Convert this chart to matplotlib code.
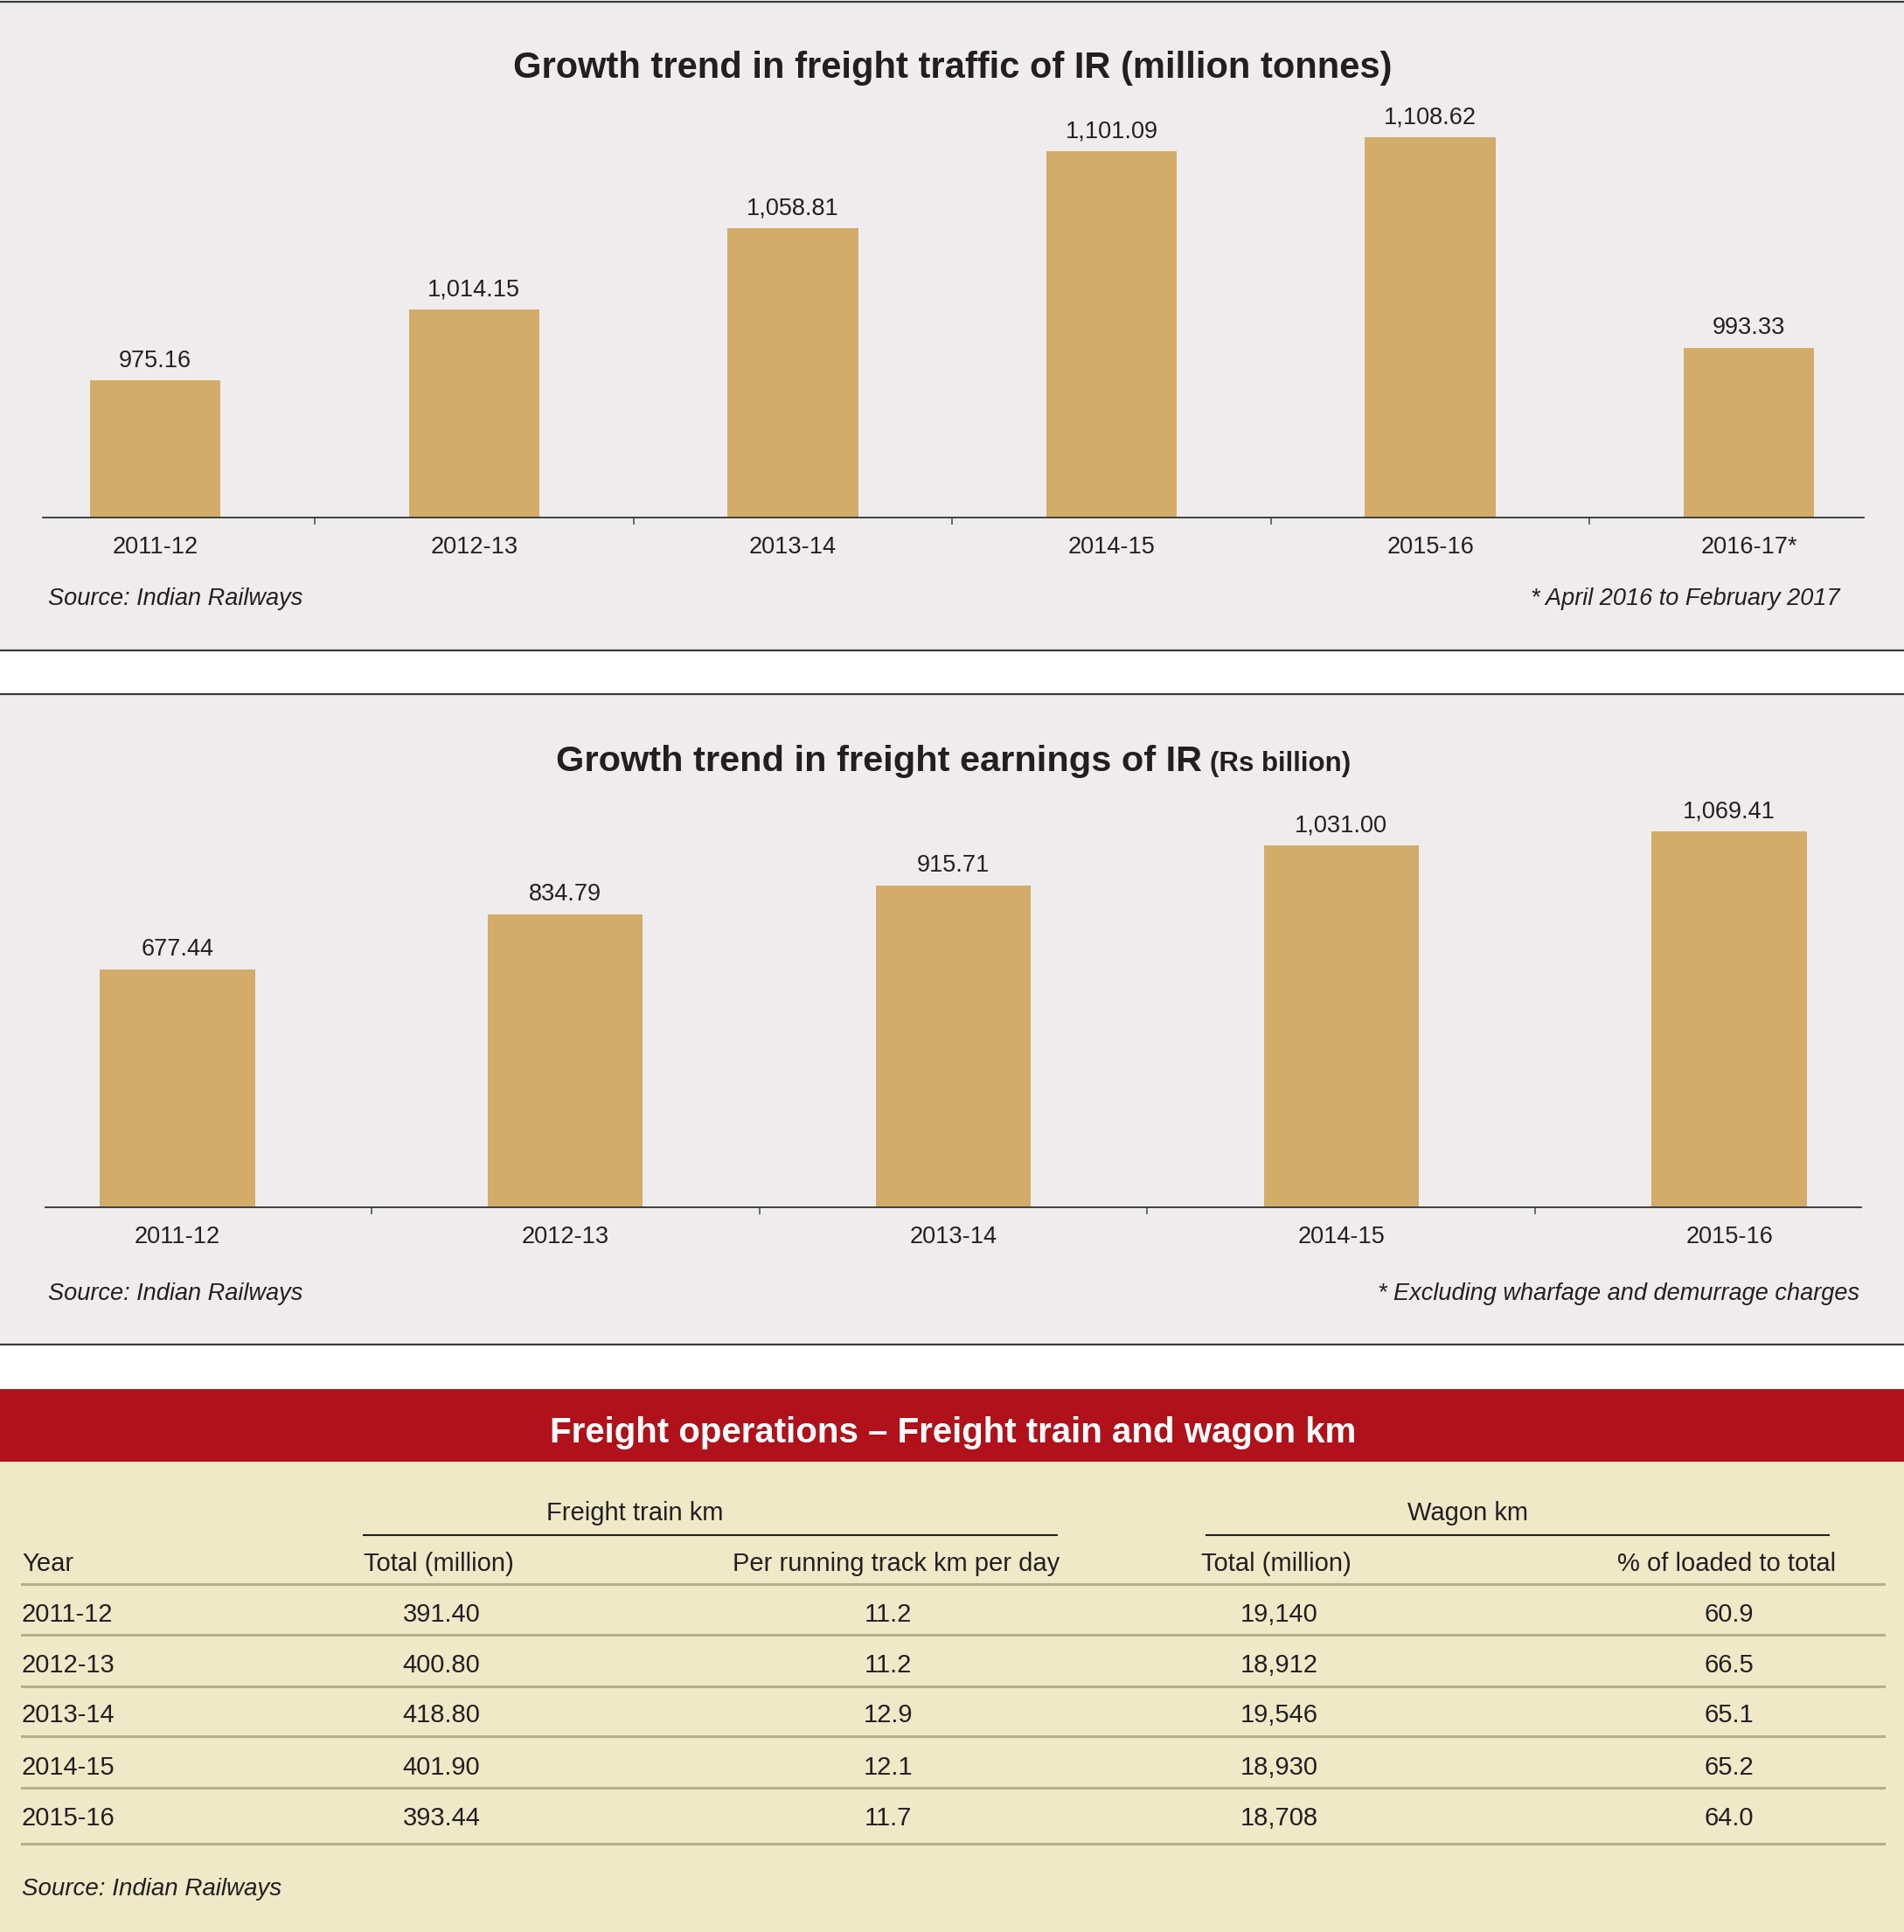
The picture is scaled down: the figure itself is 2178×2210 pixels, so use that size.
import matplotlib
matplotlib.use("Agg")
import matplotlib.pyplot as plt
from matplotlib.patches import Rectangle
from matplotlib.lines import Line2D

# Freight traffic (million tonnes)
traffic_years = ["2011-12", "2012-13", "2013-14", "2014-15", "2015-16", "2016-17*"]
traffic_values = [975.16, 1014.15, 1058.81, 1101.09, 1108.62, 993.33]

# Freight earnings (Rs billion)
earning_years = ["2011-12", "2012-13", "2013-14", "2014-15", "2015-16"]
earning_values = [677.44, 834.79, 915.71, 1031.00, 1069.41]

# Freight train and wagon km table
table_years = ["2011-12", "2012-13", "2013-14", "2014-15", "2015-16"]
train_km_total = ["391.40", "400.80", "418.80", "401.90", "393.44"]
train_km_per_track = ["11.2", "11.2", "12.9", "12.1", "11.7"]
wagon_km_total = ["19,140", "18,912", "19,546", "18,930", "18,708"]
wagon_loaded_pct = ["60.9", "66.5", "65.1", "65.2", "64.0"]
table_headers = ["Year", "Total (million)", "Per running track km per day",
                 "Total (million)", "% of loaded to total"]

W, H = 2178, 2210
GREY = "#EEECED"
BAR = "#D3AC6A"
INK = "#231F20"
RED = "#B0111A"
BEIGE = "#EFE9C8"
RULE = "#B5B08C"

plt.rcParams["font.family"] = ["Liberation Sans", "DejaVu Sans"]

fig = plt.figure(figsize=(W / 100, H / 100), dpi=100, facecolor="white")


def fx(x):
    return x / W


def fy(y):
    return 1 - y / H


def rect(x0, y0, x1, y1, color):
    fig.add_artist(Rectangle((fx(x0), fy(y1)), fx(x1) - fx(x0), fy(y0) - fy(y1),
                             transform=fig.transFigure, facecolor=color,
                             edgecolor="none", zorder=0))


def hline(x0, x1, y, color, lw):
    fig.add_artist(Line2D([fx(x0), fx(x1)], [fy(y), fy(y)], transform=fig.transFigure,
                          color=color, linewidth=lw, zorder=1))


def txt(x, y, s, size, ha="center", va="center", **kw):
    return fig.text(fx(x), fy(y), s, fontsize=size, ha=ha, va=va,
                    color=kw.pop("color", INK), **kw)


def fit_width(t, target):
    # scale a title so it spans the same width as in the reference
    r = fig.canvas.get_renderer()
    w = t.get_window_extent(r).width
    t.set_fontsize(t.get_fontsize() * target / w)


def bar_panel(ax, years, values, ymin, ymax, xlo, xhi, width):
    ax.set_facecolor("none")
    ax.bar(range(len(values)), [v - ymin for v in values], bottom=ymin,
           width=width, color=BAR, zorder=2)
    for i, v in enumerate(values):
        ax.annotate(f"{v:,.2f}", (i, v), xytext=(0, 7), textcoords="offset points",
                    ha="center", va="bottom", fontsize=19.5, color=INK)
    ax.set_xlim(xlo, xhi)
    ax.set_ylim(ymin, ymax)
    for side in ["top", "left", "right"]:
        ax.spines[side].set_visible(False)
    ax.spines["bottom"].set_color("#333333")
    ax.spines["bottom"].set_linewidth(1.3)
    ax.set_yticks([])
    ax.set_xticks(range(len(years)))
    ax.set_xticklabels(years, fontsize=19.5, color=INK)
    ax.set_xticks([i + 0.5 for i in range(len(years) - 1)], minor=True)
    ax.tick_params(axis="x", which="major", length=0, pad=15)
    ax.tick_params(axis="x", which="minor", length=6, width=1.2, color="#555555")


# ---- panel 1: freight traffic ----
rect(0, 2, W, 744, GREY)
hline(0, W, 2, "#3a3a3a", 1.6)
hline(0, W, 744, "#3a3a3a", 1.6)
ax1 = fig.add_axes([fx(49), fy(592), fx(2132) - fx(49), fy(140) - fy(592)])
bar_panel(ax1, traffic_years, traffic_values, 900, 1117, -0.353, 5.36, 0.41)
t1 = txt(1090, 89, "Growth trend in freight traffic of IR (million tonnes)", 32,
         va="baseline", fontweight="bold")
txt(55, 685, "Source: Indian Railways", 19.5, ha="left", style="italic")
txt(2105, 685, "* April 2016 to February 2017", 19.5, ha="right", style="italic")

# ---- panel 2: freight earnings ----
rect(0, 794, W, 1538, GREY)
hline(0, W, 794, "#3a3a3a", 1.6)
hline(0, W, 1538, "#3a3a3a", 1.6)
ax2 = fig.add_axes([fx(52), fy(1381), fx(2129) - fx(52), fy(880) - fy(1381)])
bar_panel(ax2, earning_years, earning_values, 0, 1247, -0.34, 4.34, 0.40)
t2a = txt(1375, 882, "Growth trend in freight earnings of IR", 32, ha="right",
          va="baseline", fontweight="bold")
t2b = txt(1384, 882, "(Rs billion)", 22, ha="left", va="baseline", fontweight="bold")
txt(55, 1480, "Source: Indian Railways", 19.5, ha="left", style="italic")
txt(2127, 1480, "* Excluding wharfage and demurrage charges", 19.5, ha="right",
    style="italic")

# ---- panel 3: table ----
rect(0, 1589, W, 1672, RED)
rect(0, 1672, W, H, BEIGE)
t3 = txt(1090, 1650, "Freight operations \u2013 Freight train and wagon km", 30,
         va="baseline", color="white", fontweight="bold")

txt(726, 1731, "Freight train km", 21)
hline(416, 1209, 1756, INK, 1.5)
txt(1679, 1731, "Wagon km", 21)
hline(1380, 2092, 1756, INK, 1.5)

head_x = [25, 502, 1025, 1460, 1975]
for i, h in enumerate(table_headers):
    txt(head_x[i], 1789, h, 21, ha="left" if i == 0 else "center")
hline(25, 2155, 1812, RULE, 2.2)

col_x = [25, 505, 1016, 1463, 1978]
columns = [table_years, train_km_total, train_km_per_track, wagon_km_total,
           wagon_loaded_pct]
row_y = [1847, 1905, 1962, 2022, 2080]
line_y = [1870, 1929, 1986, 2045, 2109]
for r in range(len(table_years)):
    for c, col in enumerate(columns):
        txt(col_x[c], row_y[r], col[r], 21, ha="left" if c == 0 else "center")
    hline(25, 2155, line_y[r], RULE, 2.2)
txt(25, 2161, "Source: Indian Railways", 20, ha="left", style="italic")

# match the title widths of the reference
fit_width(t1, 1006)
fit_width(t2a, 738)
fit_width(t2b, 161)
fit_width(t3, 925)

fig.savefig("out.png", dpi=100, facecolor="white")
